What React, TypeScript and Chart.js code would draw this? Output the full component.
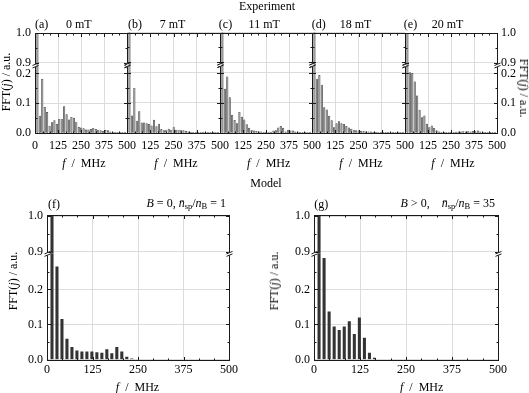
import React, { useEffect, useRef } from "react";
import { Chart, registerables } from "chart.js";

Chart.register(...registerables);

const SERIF = "'Liberation Serif', 'Times New Roman', serif";
const GRID = "#dcdcdc";
const INK = "#1a1a1a";

// ---------- data ----------
const expFreqMHz = [
  13.2, 26.4, 39.6, 52.8, 66, 79.2, 92.4, 105.6, 118.8, 132, 145.2, 158.4, 171.6, 184.8, 198, 211.2,
  224.4, 237.6, 250.8, 264, 277.2, 290.4, 303.6, 316.8, 330, 343.2, 356.4, 369.6, 382.8, 396, 409.2,
  422.4, 435.6, 448.8, 462, 475.2, 488.4,
];
const modelFreqMHz = [
  13.7, 27.4, 41.1, 54.8, 68.5, 82.2, 95.9, 109.6, 123.3, 137, 150.7, 164.4, 178.1, 191.8, 205.5, 219.2, 232.9,
];

const fft0mT = [
  1.0, 0.057, 0.18, 0.086, 0.069, 0.023, 0.035, 0.042, 0.03, 0.046, 0.046, 0.089, 0.062, 0.044, 0.053, 0.05,
  0.037, 0.019, 0.017, 0.015, 0.011, 0.011, 0.012, 0.016, 0.012, 0.01, 0.008, 0.006, 0.009, 0.008, 0.004,
  0.002, 0.001, 0.001, 0.001, 0.001, 0.001,
];
const fft7mT = [
  1.0, 0.057, 0.149, 0.04, 0.071, 0.034, 0.034, 0.031, 0.029, 0.024, 0.043, 0.021, 0.03, 0.012, 0.008, 0.01,
  0.013, 0.01, 0.02, 0.01, 0.01, 0.008, 0.008, 0.006, 0.004, 0.003, 0.002, 0.002, 0.002, 0.001, 0.001,
  0.001, 0.001, 0.001, 0.001, 0.001, 0.001,
];
const fft11mT = [
  1.0, 0.146, 0.187, 0.118, 0.059, 0.042, 0.031, 0.069, 0.053, 0.044, 0.028, 0.016, 0.009, 0.007, 0.006,
  0.004, 0.004, 0.003, 0.002, 0.003, 0.003, 0.007, 0.008, 0.017, 0.022, 0.016, 0.004, 0.01, 0.007, 0.007,
  0.004, 0.003, 0.002, 0.002, 0.001, 0.001, 0.001,
];
const fft18mT = [
  1.0, 0.18, 0.192, 0.16, 0.085, 0.077, 0.056, 0.041, 0.018, 0.031, 0.038, 0.031, 0.029, 0.022, 0.017, 0.013,
  0.01, 0.008, 0.007, 0.006, 0.006, 0.004, 0.004, 0.004, 0.003, 0.003, 0.002, 0.002, 0.002, 0.002, 0.002,
  0.001, 0.001, 0.001, 0.001, 0.001, 0.001,
];
const fft20mT = [
  1.0, 0.203, 0.2, 0.172, 0.125, 0.077, 0.052, 0.058, 0.03, 0.018, 0.024, 0.016, 0.008, 0.004, 0.003, 0.002,
  0.002, 0.002, 0.002, 0.002, 0.003, 0.004, 0.004, 0.005, 0.004, 0.005, 0.004, 0.006, 0.005, 0.007, 0.004,
  0.003, 0.002, 0.002, 0.001, 0.001, 0.001,
];
const modelB0 = [
  1.0, 0.265, 0.115, 0.058, 0.035, 0.025, 0.022, 0.022, 0.022, 0.02, 0.018, 0.028, 0.017, 0.035, 0.022, 0.007, 0.002,
];
const modelBpos = [1.0, 0.289, 0.136, 0.093, 0.083, 0.093, 0.108, 0.072, 0.119, 0.061, 0.018, 0.004];

const xTicksMHz = [0, 41.667, 83.333, 125, 166.667, 208.333, 250, 291.667, 333.333, 375, 416.667, 458.333, 500];
const yHighTicks = [0.9, 0.95, 1.0];
const yLowTicksExp = [0, 0.05, 0.1, 0.15, 0.2];
const yLowTicksModel = [0, 0.05, 0.1, 0.15, 0.2, 0.25];

const expFieldLabels = ["0 mT", "7 mT", "11 mT", "18 mT", "20 mT"];
const expPanelLetters = ["(a)", "(b)", "(c)", "(d)", "(e)"];

const isMajorX = (v: number) => Math.abs(v / 125 - Math.round(v / 125)) < 1e-3;
const isMajorY = (v: number) => Math.abs(v * 10 - Math.round(v * 10)) < 1e-6;

type Side = "left" | "right" | "none";
type PanelSpec = {
  left: number; right: number; top: number; brk: number; bottom: number;
  hiMin: number; hiMax: number; loMax: number;
  freqs: number[]; values: number[];
  side: Side; skipZero: boolean;
  loTicks: number[];
  fill: string; edge: string; edgeWidth: number; thickness: number;
  xPad: number;
};

const framePlugin = {
  id: "panelFrame",
  afterDatasetsDraw(chart: any) {
    const { ctx, chartArea: a, scales } = chart;
    const px = (v: number) => Math.round(v) + 0.5;
    const L = px(a.left), R = px(a.right), T = px(a.top), B = px(a.bottom);
    const x = scales.x, lo = scales.yLo, hi = scales.yHi;
    ctx.save();
    ctx.strokeStyle = INK;
    ctx.lineWidth = 1;
    ctx.strokeRect(L, T, R - L, B - T);
    ctx.beginPath();
    for (const t of x.ticks) {
      const p = px(x.getPixelForValue(t.value));
      const len = isMajorX(t.value) ? 3.5 : 2;
      ctx.moveTo(p, B); ctx.lineTo(p, B - len);
      ctx.moveTo(p, T); ctx.lineTo(p, T + len);
    }
    for (const s of [lo, hi]) {
      for (const t of s.ticks) {
        const p = px(s.getPixelForValue(t.value));
        const len = isMajorY(t.value) ? 3.5 : 2;
        ctx.moveTo(L, p); ctx.lineTo(L + len, p);
        ctx.moveTo(R, p); ctx.lineTo(R - len, p);
      }
    }
    ctx.stroke();
    const by = lo.top;
    for (const ex of [L, R]) {
      ctx.fillStyle = "#fff";
      ctx.fillRect(ex - 1, by - 1, 2, 3);
      ctx.beginPath();
      ctx.moveTo(ex - 3, by + 0.5); ctx.lineTo(ex + 3, by - 2);
      ctx.moveTo(ex - 3, by + 3); ctx.lineTo(ex + 3, by + 0.5);
      ctx.stroke();
    }
    ctx.restore();
  },
};

function Panel({ spec }: { spec: PanelSpec }) {
  const ref = useRef<HTMLCanvasElement>(null);
  const PAD = 36, PADT = 10, PADB = 26;
  const Y_W = 30, X_H = 22;
  const cLeft = Math.floor(spec.left - PAD);
  const cTop = Math.floor(spec.top - PADT);
  const cRight = Math.ceil(spec.right + PAD);
  const cBottom = Math.ceil(spec.bottom + PADB);
  const W = cRight - cLeft, H = cBottom - cTop;

  useEffect(() => {
    const canvas = ref.current!;
    const pos = spec.side === "right" ? "right" : "left";
    const yw = spec.side === "none" ? 0 : Y_W;
    const tickFont = { family: SERIF, size: 12 };
    const yScale = (min: number, max: number, ticks: number[], weight: number, stackWeight: number) => ({
      type: "linear", min, max, position: pos, stack: "ys", stackWeight, weight,
      afterFit: (s: any) => { s.width = yw; },
      afterBuildTicks: (s: any) => { s.ticks = ticks.map((v) => ({ value: v })); },
      ticks: {
        display: spec.side !== "none", padding: 4, autoSkip: false, color: "#000", font: tickFont,
        callback: (v: number) => (isMajorY(v) ? v.toFixed(1) : ""),
      },
      grid: {
        drawTicks: false, lineWidth: 1,
        color: (c: any) => (c.tick && isMajorY(c.tick.value) ? GRID : "rgba(0,0,0,0)"),
      },
      border: { display: false },
    });
    const hiW = spec.brk - spec.top, loW = spec.bottom - spec.brk;
    const style = {
      backgroundColor: spec.fill, borderColor: spec.edge, borderWidth: spec.edgeWidth,
      barThickness: spec.thickness, grouped: false, borderSkipped: false,
    };
    const padLeft = spec.left - cLeft - (pos === "left" ? yw : 0);
    const padRight = cRight - spec.right - (pos === "right" ? yw : 0);
    const chart = new Chart(canvas, {
      type: "bar",
      data: {
        datasets: [
          { ...style, yAxisID: "yLo", xAxisID: "x", data: spec.freqs.map((f, i) => ({ x: f, y: spec.values[i] })) },
          {
            ...style, yAxisID: "yHi", xAxisID: "x",
            data: spec.freqs.map((f, i) => ({ x: f, y: spec.values[i] >= spec.hiMin ? spec.values[i] : null })),
          },
        ],
      } as any,
      options: {
        responsive: false, animation: false, events: [],
        layout: {
          padding: {
            left: padLeft, right: padRight,
            top: spec.top - cTop, bottom: cBottom - spec.bottom - X_H,
          },
        },
        plugins: { legend: { display: false }, tooltip: { enabled: false } },
        scales: {
          x: {
            type: "linear", min: 0, max: 500, position: "bottom", offset: false,
            afterFit: (s: any) => { s.height = X_H; },
            afterBuildTicks: (s: any) => { s.ticks = xTicksMHz.map((v) => ({ value: v })); },
            ticks: {
              padding: spec.xPad, autoSkip: false, maxRotation: 0, minRotation: 0, color: "#000", font: tickFont,
              callback: (v: number) => (isMajorX(v) && !(spec.skipZero && v === 0) ? String(Math.round(v)) : ""),
            },
            grid: {
              offset: false, drawTicks: false, lineWidth: 1,
              color: (c: any) => (c.tick && isMajorX(c.tick.value) ? GRID : "rgba(0,0,0,0)"),
            },
            border: { display: false },
          },
          yHi: yScale(spec.hiMin, spec.hiMax, yHighTicks, pos === "left" ? 2 : 1, hiW),
          yLo: yScale(0, spec.loMax, spec.loTicks, pos === "left" ? 1 : 2, loW),
        },
      } as any,
      plugins: [framePlugin],
    });
    return () => chart.destroy();
  }, []);

  return (
    <canvas
      ref={ref}
      width={W}
      height={H}
      style={{ position: "absolute", left: cLeft, top: cTop, width: W, height: H }}
    />
  );
}

function Txt({ x, y, a = "c", rot = 0, children }: any) {
  const tx = a === "c" ? "-50%" : a === "l" ? "0%" : "-100%";
  return (
    <span
      style={{
        position: "absolute", left: x, top: y,
        transform: `translate(${tx},-50%)${rot ? ` rotate(${rot}deg)` : ""}`,
        fontFamily: SERIF, fontSize: 12, lineHeight: 1, whiteSpace: "nowrap", color: "#000",
      }}
    >
      {children}
    </span>
  );
}

const FFTLabel = () => (
  <>
    FFT(<i>j</i>) / a.u.
  </>
);
const FLabel = () => (
  <>
    <i>f</i>&nbsp; /&nbsp; MHz
  </>
);
const subStyle = { fontSize: 8.5, verticalAlign: "-2px" } as any;

export default function App() {
  const expEdges = [35, 127, 220, 312, 405, 497];
  const expSeries = [fft0mT, fft7mT, fft11mT, fft18mT, fft20mT];
  const expSpecs: PanelSpec[] = expSeries.map((vals, i) => ({
    left: expEdges[i], right: expEdges[i + 1], top: 32.5, brk: 64.5, bottom: 133,
    hiMin: 0.8933, hiMax: 1.0, loMax: 0.2283,
    freqs: expFreqMHz, values: vals,
    side: i === 0 ? "left" : i === 4 ? "right" : "none",
    skipZero: i > 0, loTicks: yLowTicksExp,
    fill: "#9a9a9a", edge: "#333333", edgeWidth: 0.4, thickness: 1.5, xPad: 6,
  }));
  const modelBase = {
    top: 214, brk: 252.5, bottom: 359.5, hiMin: 0.8958, hiMax: 1.0028, loMax: 0.3031,
    freqs: modelFreqMHz, side: "left" as Side, skipZero: false, loTicks: yLowTicksModel,
    fill: "#333333", edge: "#333333", edgeWidth: 0, thickness: 2.4, xPad: 3,
  };
  const modelSpecs: PanelSpec[] = [
    { ...modelBase, left: 47, right: 229, values: modelB0 },
    { ...modelBase, left: 314, right: 498, values: modelBpos },
  ];

  const titleX = [78.8, 172.5, 264.2, 355.5, 447.5];
  const letterX = [41.7, 135, 225.5, 318.8, 410.5];
  const xTitleX = [83.8, 176, 268.7, 361, 453];

  return (
    <div style={{ position: "absolute", left: 0, top: 0, width: 529, height: 393, background: "#fff", overflow: "hidden" }}>
      {expSpecs.map((s, i) => (
        <Panel key={"e" + i} spec={s} />
      ))}
      {modelSpecs.map((s, i) => (
        <Panel key={"m" + i} spec={s} />
      ))}

      <Txt x={267} y={6}>Experiment</Txt>
      {expFieldLabels.map((t, i) => (
        <Txt key={"t" + i} x={titleX[i]} y={24}>{t}</Txt>
      ))}
      {expPanelLetters.map((t, i) => (
        <Txt key={"l" + i} x={letterX[i]} y={24}>{t}</Txt>
      ))}
      {xTitleX.map((x, i) => (
        <Txt key={"x" + i} x={x} y={163}><FLabel /></Txt>
      ))}
      <Txt x={6} y={82} rot={-90}><FFTLabel /></Txt>
      <Txt x={524} y={88} rot={90}><FFTLabel /></Txt>

      <Txt x={266} y={183}>Model</Txt>
      <Txt x={54} y={204}>(f)</Txt>
      <Txt x={226} y={204} a="r">
        <i>B</i> = 0, <i>n&#772;</i><sub style={subStyle}>sp</sub>/<i>n</i><sub style={subStyle}>B</sub> = 1
      </Txt>
      <Txt x={321.3} y={204}>(g)</Txt>
      <Txt x={495} y={204} a="r">
        <i>B</i> &gt; 0,&nbsp;&nbsp;&nbsp; <i>n&#772;</i><sub style={subStyle}>sp</sub>/<i>n</i><sub style={subStyle}>B</sub> = 35
      </Txt>
      <Txt x={137.5} y={387}><FLabel /></Txt>
      <Txt x={421.7} y={387}><FLabel /></Txt>
      <Txt x={13} y={280.5} rot={-90}><FFTLabel /></Txt>
      <Txt x={274} y={281} rot={-90}><FFTLabel /></Txt>
    </div>
  );
}
